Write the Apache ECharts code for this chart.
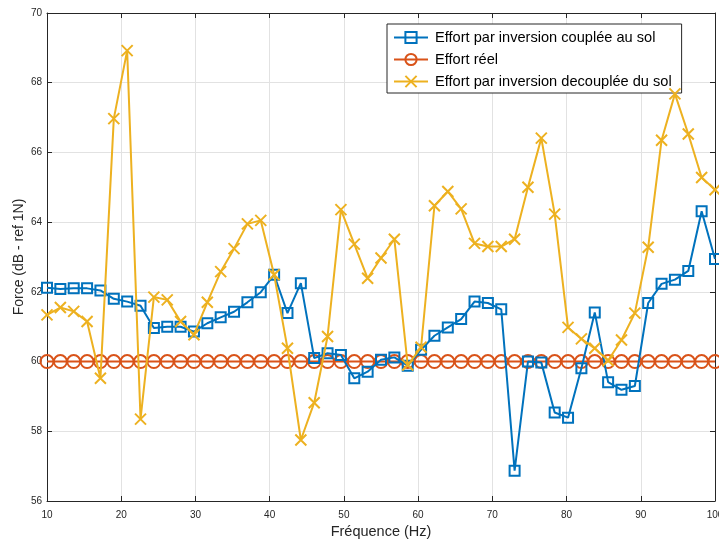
<!DOCTYPE html>
<html><head><meta charset="utf-8">
<script src="https://cdn.jsdelivr.net/npm/echarts@6/dist/echarts.min.js"></script>
<style>html,body{margin:0;padding:0;background:#fff}#c{width:719px;height:539px}</style>
</head><body><div id="c"></div>
<script>
const freqs = [10, 11.8, 13.6, 15.4, 17.2, 19, 20.8, 22.6, 24.4, 26.2, 28, 29.8, 31.6, 33.4, 35.2, 37, 38.8, 40.6, 42.4, 44.2, 46, 47.8, 49.6, 51.4, 53.2, 55, 56.8, 58.6, 60.4, 62.2, 64, 65.8, 67.6, 69.4, 71.2, 73, 74.8, 76.6, 78.4, 80.2, 82, 83.8, 85.6, 87.4, 89.2, 91, 92.8, 94.6, 96.4, 98.2, 100];
const couplee = [62.12, 62.08, 62.1, 62.1, 62.04, 61.8, 61.72, 61.6, 60.96, 61.0, 61.0, 60.86, 61.1, 61.27, 61.43, 61.7, 61.99, 62.49, 61.39, 62.25, 60.1, 60.24, 60.19, 59.52, 59.71, 60.05, 60.12, 59.88, 60.34, 60.74, 60.98, 61.22, 61.72, 61.68, 61.5, 56.87, 60.0, 59.97, 58.54, 58.39, 59.81, 61.41, 59.41, 59.19, 59.3, 61.68, 62.23, 62.35, 62.6, 64.31, 62.94];
const reel = [60, 60, 60, 60, 60, 60, 60, 60, 60, 60, 60, 60, 60, 60, 60, 60, 60, 60, 60, 60, 60, 60, 60, 60, 60, 60, 60, 60, 60, 60, 60, 60, 60, 60, 60, 60, 60, 60, 60, 60, 60, 60, 60, 60, 60, 60, 60, 60, 60, 60, 60];
const decouplee = [61.34, 61.55, 61.44, 61.15, 59.52, 66.97, 68.92, 58.35, 61.85, 61.77, 61.15, 60.77, 61.7, 62.58, 63.24, 63.95, 64.05, 62.49, 60.38, 57.75, 58.82, 60.72, 64.36, 63.37, 62.39, 62.97, 63.51, 59.9, 60.41, 64.47, 64.88, 64.38, 63.39, 63.3, 63.3, 63.51, 65.0, 66.41, 64.23, 60.98, 60.65, 60.38, 60.03, 60.62, 61.39, 63.28, 66.35, 67.68, 66.53, 65.28, 64.93];
const seriesNames = ['Effort par inversion couplée au sol', 'Effort réel', 'Effort par inversion decouplée du sol'];
const xTitle = 'Fréquence (Hz)';
const yTitle = 'Force (dB - ref 1N)';

const pair = (ys) => freqs.map((f, i) => [f, ys[i]]);
const FONT = 'Liberation Sans, Arial, sans-serif';
const AX = '#262626';
const chart = echarts.init(document.getElementById('c'), null, {renderer: 'canvas'});
const crossPath = 'path://M0,0L10,10M10,0L0,10';
chart.setOption({
  animation: false,
  backgroundColor: '#fff',
  grid: {left: 47, right: 4, top: 13, bottom: 38, containLabel: false, outerBoundsMode: 'none'},
  legend: {
    orient: 'vertical', left: 387, top: 24, itemWidth: 34, itemHeight: 14, itemGap: 7,
    padding: [6, 10, 4, 6], borderColor: AX, borderWidth: 1, backgroundColor: '#fff', borderRadius: 0,
    textStyle: {fontFamily: FONT, fontSize: 14.6, color: '#000', padding: [0, 0, 0, 2]},
    data: seriesNames
  },
  xAxis: [{
    type: 'value', min: 10, max: 100, interval: 10, position: 'bottom',
    name: xTitle, nameLocation: 'middle', nameGap: 23, nameMoveOverlap: false,
    nameTextStyle: {fontFamily: FONT, fontSize: 14.5, color: AX},
    axisLine: {lineStyle: {color: AX, width: 1}},
    axisTick: {inside: true, length: 5, lineStyle: {color: AX}},
    axisLabel: {fontFamily: FONT, fontSize: 10, color: AX, margin: 9},
    splitLine: {show: true, lineStyle: {color: '#e2e2e2', width: 1}}
  }, {
    type: 'value', min: 10, max: 100, interval: 10, position: 'top',
    axisLine: {lineStyle: {color: AX, width: 1}},
    axisTick: {inside: true, length: 5, lineStyle: {color: AX}},
    axisLabel: {show: false}, splitLine: {show: false}
  }],
  yAxis: [{
    type: 'value', min: 56, max: 70, interval: 2, position: 'left',
    name: yTitle, nameLocation: 'middle', nameGap: 21, nameRotate: 90, nameMoveOverlap: false,
    nameTextStyle: {fontFamily: FONT, fontSize: 14, color: AX},
    axisLine: {show: true, lineStyle: {color: AX, width: 1}},
    axisTick: {show: true, inside: true, length: 5, lineStyle: {color: AX}},
    axisLabel: {fontFamily: FONT, fontSize: 10, color: AX, margin: 5},
    splitLine: {show: true, lineStyle: {color: '#e2e2e2', width: 1}}
  }, {
    type: 'value', min: 56, max: 70, interval: 2, position: 'right',
    axisLine: {show: true, lineStyle: {color: AX, width: 1}},
    axisTick: {show: true, inside: true, length: 5, lineStyle: {color: AX}},
    axisLabel: {show: false}, splitLine: {show: false}
  }],
  series: [{
    name: seriesNames[0], type: 'line', data: pair(couplee), z: 3,
    symbol: 'rect', symbolSize: 10, showAllSymbol: true,
    lineStyle: {color: '#0072BD', width: 2},
    itemStyle: {color: 'rgba(255,255,255,0)', borderColor: '#0072BD', borderWidth: 2}
  }, {
    name: seriesNames[1], type: 'line', data: pair(reel), z: 2,
    symbol: 'circle', symbolSize: 13, showAllSymbol: true,
    lineStyle: {color: '#D95319', width: 2},
    itemStyle: {color: 'rgba(255,255,255,0)', borderColor: '#D95319', borderWidth: 2}
  }, {
    name: seriesNames[2], type: 'line', data: pair(decouplee), z: 4,
    symbol: crossPath, symbolSize: 11, showAllSymbol: true,
    lineStyle: {color: '#EDB120', width: 2},
    itemStyle: {color: 'rgba(255,255,255,0)', borderColor: '#EDB120', borderWidth: 2}
  }]
});
</script>
</body></html>
